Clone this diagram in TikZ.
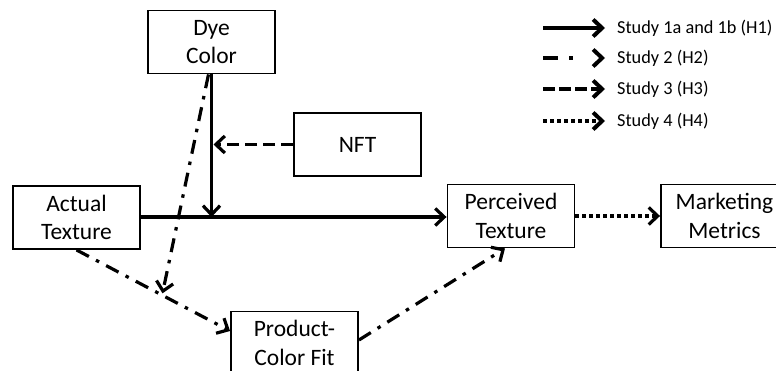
\documentclass[tikz,border=0pt]{standalone}
\usepackage{fontspec}
\setmainfont{Carlito}
\usetikzlibrary{arrows.meta,calc}
\tikzset{
  box/.style={draw, line width=1.9pt, minimum width=127pt, minimum height=63pt,
    inner sep=0pt, align=center, font=\fontsize{23.5}{28.5}\selectfont},
  link/.style={line width=3.2pt, -{Straight Barb[length=9pt,width=17pt,line width=3.2pt]}},
  solidlink/.style={link},
  dashlink/.style={link, dash pattern=on 12pt off 6pt},
  dashdotlink/.style={link, dash pattern=on 14pt off 8pt on 3.5pt off 8pt},
  dotlink/.style={link, dash pattern=on 4pt off 3pt},
  keylink/.style={line width=4pt, -{Straight Barb[length=9pt,width=17pt,line width=4pt]}},
  legendtext/.style={anchor=west, inner sep=0pt, font=\fontsize{18.3}{22}\selectfont},
}
\begin{document}
\begin{tikzpicture}[x=1pt, y=-1pt]
\useasboundingbox (0,0) rectangle (776,371);
\clip (0,0) rectangle (776,371);
\fill[white] (0,0) rectangle (776,371);

% boxes
\node[box] (dye)  at (211.5,42)  {Dye\\Color};
\node[box] (nft)  at (357.5,144.5) {NFT};
\node[box] (act)  at (76.5,217.5) {Actual\\Texture};
\node[box] (per)  at (511,216)   {Perceived\\Texture};
\node[box] (mkt)  at (724.5,216) {Marketing\\Metrics};
\node[box] (pcf)  at (294.5,343) {Product-\\Color Fit};

% H1: actual texture to perceived texture, moderated by dye color
\draw[solidlink] (act.east |- 0,217) -- (per.west |- 0,217);
\coordinate (j1) at (dye.south |- 0,217);
\draw[solidlink] (dye.south) -- (j1);

% H3: NFT moderates the dye color path
\coordinate (j3) at (dye.south |- nft.west);
\draw[dashlink] (nft.west) -- ([xshift=2pt]j3);

% H2: mediation through product-color fit
\coordinate (pcfin) at ([yshift=12pt]pcf.west);
\draw[dashdotlink] (act.south) -- (pcfin);
\coordinate (j2) at ($(act.south)!0.56!(pcfin)$);
\draw[dashdotlink] ([xshift=-3pt]dye.south) -- ([yshift=2pt]j2);
\draw[dashdotlink] ([yshift=3pt]pcf.east) -- ([xshift=-6pt]per.south);

% H4: perceived texture to marketing metrics
\draw[dotlink] (per.east) -- (mkt.west);

% legend
\coordinate (a1) at (543,28);  \coordinate (b1) at (605,28);
\coordinate (a2) at (543,58);  \coordinate (b2) at (605,58);
\coordinate (a3) at (543,89);  \coordinate (b3) at (605,89);
\coordinate (a4) at (543,121); \coordinate (b4) at (605,121);
\draw[keylink] (a1) -- (b1);
\draw[keylink, dash pattern=on 15pt off 11pt on 4pt off 30pt] (a2) -- (b2);
\draw[keylink, dash pattern=on 12pt off 4pt] (a3) -- (b3);
\draw[keylink, dash pattern=on 4pt off 3pt] (a4) -- (b4);
\node[legendtext] (t1) at (617,28)  {Study 1a and 1b (H1)};
\node[legendtext] (t2) at (617,58)  {Study 2 (H2)};
\node[legendtext] (t3) at (617,89)  {Study 3 (H3)};
\node[legendtext] (t4) at (617,121) {Study 4 (H4)};
\end{tikzpicture}
\end{document}
